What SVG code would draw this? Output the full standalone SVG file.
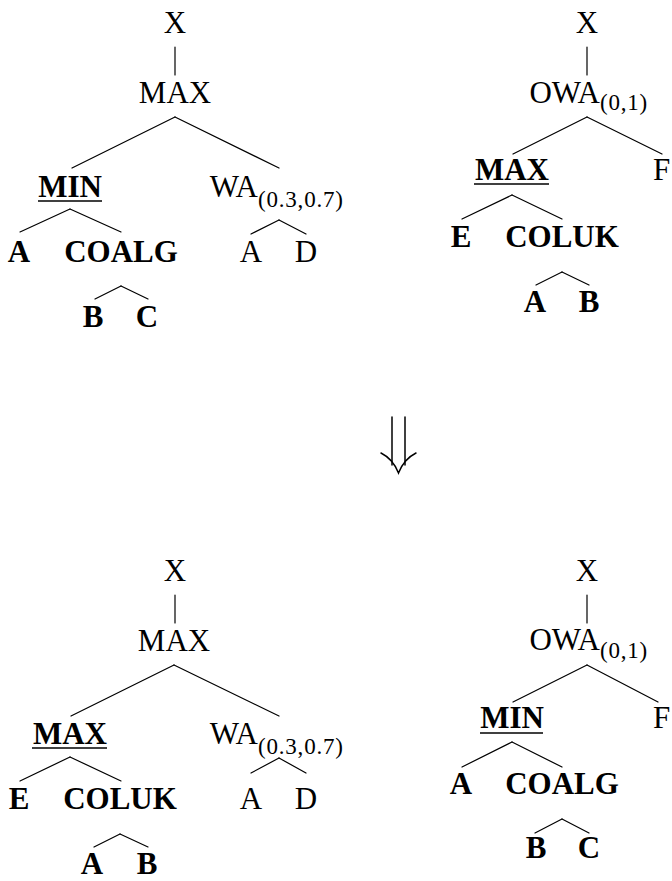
<svg xmlns="http://www.w3.org/2000/svg" width="672" height="881" viewBox="0 0 672 881">
  <style>
    text { font-family: 'Liberation Serif', 'Times New Roman', 'DejaVu Serif', serif; font-size: 31px; fill: #000; }
    .c { text-anchor: middle; }
    .e { text-anchor: end; }
    .b { font-weight: bold; }
    .sub { font-size: 23px; letter-spacing: 0.8px; }
    .edge { stroke: #000; stroke-width: 1.2; fill: none; stroke-linecap: round; }
    .ul { stroke: #000; stroke-width: 1.4; }
  </style>

  <!-- tree edges -->
  <g id="connectors" class="edge">
    <!-- upper left tree -->
    <line x1="175" y1="47" x2="175" y2="75"/>
    <line x1="175" y1="117" x2="72" y2="168"/>
    <line x1="175" y1="117" x2="279" y2="168"/>
    <line x1="70" y1="209" x2="20" y2="232"/>
    <line x1="70" y1="209" x2="121" y2="232"/>
    <line x1="279" y1="220" x2="251" y2="234"/>
    <line x1="279" y1="220" x2="306" y2="234"/>
    <line x1="121" y1="286" x2="95" y2="299"/>
    <line x1="121" y1="286" x2="148" y2="299"/>
    <!-- upper right tree -->
    <line x1="587" y1="47" x2="587" y2="75"/>
    <line x1="587" y1="117" x2="513" y2="154"/>
    <line x1="587" y1="117" x2="662" y2="154"/>
    <line x1="512" y1="195" x2="462" y2="219"/>
    <line x1="512" y1="195" x2="562" y2="219"/>
    <line x1="562" y1="272" x2="536" y2="285"/>
    <line x1="562" y1="272" x2="589" y2="285"/>
    <!-- lower left tree -->
    <line x1="175" y1="595" x2="175" y2="623"/>
    <line x1="174" y1="665" x2="71" y2="716"/>
    <line x1="174" y1="665" x2="279" y2="716"/>
    <line x1="70" y1="757" x2="20" y2="781"/>
    <line x1="70" y1="757" x2="121" y2="781"/>
    <line x1="279" y1="758" x2="251" y2="773"/>
    <line x1="279" y1="758" x2="306" y2="773"/>
    <line x1="120" y1="834" x2="94" y2="847"/>
    <line x1="120" y1="834" x2="148" y2="847"/>
    <!-- lower right tree -->
    <line x1="587" y1="595" x2="587" y2="623"/>
    <line x1="587" y1="665" x2="513" y2="702"/>
    <line x1="587" y1="665" x2="658" y2="702"/>
    <line x1="512" y1="742" x2="462" y2="767"/>
    <line x1="512" y1="742" x2="562" y2="767"/>
    <line x1="562" y1="819" x2="535" y2="833"/>
    <line x1="562" y1="819" x2="589" y2="833"/>
  </g>

  <!-- transformation arrow -->
  <g id="implies" stroke="#000" stroke-width="1.5" fill="none" stroke-linecap="round">
    <path d="M392 417 V465"/>
    <path d="M405 417 V465"/>
    <path d="M381 453 Q393 459 398.5 473 Q404 459 416 453"/>
  </g>

  <!-- upper left tree -->
  <g id="tl-x"><text class="c" x="175" y="33">X</text></g>
  <g id="tl-max"><text class="c" x="175" y="103">MAX</text></g>
  <g id="tl-min"><text class="c b" x="70" y="197">MIN</text><line class="ul" x1="38" y1="201" x2="102" y2="201"/></g>
  <g id="tl-wa"><text class="e" x="258" y="197">WA</text><text class="sub" x="258" y="207">(0.3,0.7)</text></g>
  <g id="tl-a"><text class="c b" x="19" y="262">A</text></g>
  <g id="tl-coalg"><text class="c b" x="121" y="262">COALG</text></g>
  <g id="tl-wa-a"><text class="c" x="251" y="262">A</text></g>
  <g id="tl-wa-d"><text class="c" x="306" y="262">D</text></g>
  <g id="tl-b"><text class="c b" x="93" y="327">B</text></g>
  <g id="tl-c"><text class="c b" x="147" y="327">C</text></g>

  <!-- upper right tree -->
  <g id="tr-x"><text class="c" x="587" y="33">X</text></g>
  <g id="tr-owa"><text class="e" x="600" y="103">OWA</text><text class="sub" x="600" y="110">(0,1)</text></g>
  <g id="tr-max"><text class="c b" x="512" y="180">MAX</text><line class="ul" x1="474" y1="184" x2="549" y2="184"/></g>
  <g id="tr-f"><text x="653" y="180">F</text></g>
  <g id="tr-e"><text class="c b" x="461" y="247">E</text></g>
  <g id="tr-coluk"><text class="c b" x="562" y="247">COLUK</text></g>
  <g id="tr-a"><text class="c b" x="535" y="312">A</text></g>
  <g id="tr-b"><text class="c b" x="589" y="312">B</text></g>

  <!-- lower left tree -->
  <g id="bl-x"><text class="c" x="175" y="581">X</text></g>
  <g id="bl-max"><text class="c" x="174" y="651">MAX</text></g>
  <g id="bl-max2"><text class="c b" x="70" y="744">MAX</text><line class="ul" x1="32" y1="748" x2="107" y2="748"/></g>
  <g id="bl-wa"><text class="e" x="258" y="744">WA</text><text class="sub" x="258" y="754">(0.3,0.7)</text></g>
  <g id="bl-e"><text class="c b" x="19" y="809">E</text></g>
  <g id="bl-coluk"><text class="c b" x="120" y="809">COLUK</text></g>
  <g id="bl-wa-a"><text class="c" x="251" y="809">A</text></g>
  <g id="bl-wa-d"><text class="c" x="306" y="809">D</text></g>
  <g id="bl-a"><text class="c b" x="92" y="874">A</text></g>
  <g id="bl-b"><text class="c b" x="147" y="874">B</text></g>

  <!-- lower right tree -->
  <g id="br-x"><text class="c" x="587" y="581">X</text></g>
  <g id="br-owa"><text class="e" x="600" y="650">OWA</text><text class="sub" x="600" y="658">(0,1)</text></g>
  <g id="br-min"><text class="c b" x="512" y="728">MIN</text><line class="ul" x1="480" y1="733" x2="543" y2="733"/></g>
  <g id="br-f"><text x="653" y="728">F</text></g>
  <g id="br-a"><text class="c b" x="461" y="794">A</text></g>
  <g id="br-coalg"><text class="c b" x="562" y="794">COALG</text></g>
  <g id="br-b"><text class="c b" x="536" y="858">B</text></g>
  <g id="br-c"><text class="c b" x="589" y="858">C</text></g>
</svg>
